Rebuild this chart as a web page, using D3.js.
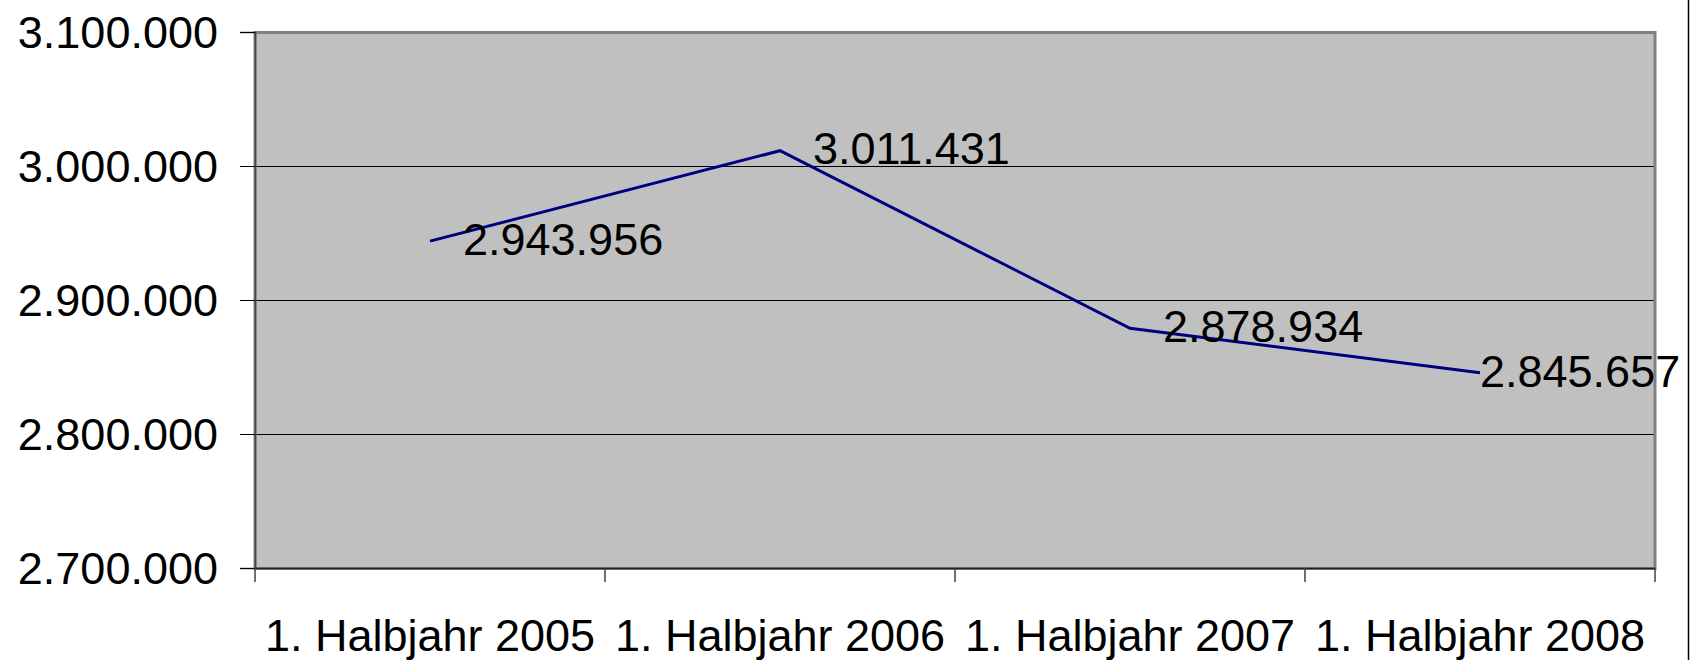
<!DOCTYPE html>
<html>
<head>
<meta charset="utf-8">
<script src="https://cdn.jsdelivr.net/npm/d3@7"></script>
<style>
  html, body { margin: 0; padding: 0; background: #fff; }
  svg { display: block; }
  text { font-family: "Liberation Sans", Arial, sans-serif; fill: #000; }
</style>
</head>
<body>
<svg id="chart" width="1701" height="660"></svg>
<script>
const categories = ["1. Halbjahr 2005", "1. Halbjahr 2006", "1. Halbjahr 2007", "1. Halbjahr 2008"];
const values = [2943956, 3011431, 2878934, 2845657];
const yTicks = [2700000, 2800000, 2900000, 3000000, 3100000];

const W = 1701, H = 660;
const margin = { left: 255, top: 32, right: 46, bottom: 92 };
const pw = W - margin.left - margin.right; // 1400
const ph = H - margin.top - margin.bottom; // 536

const fmt = v => d3.format(",")(v).replace(/,/g, ".");

const svg = d3.select("#chart");
const g = svg.append("g").attr("transform", `translate(${margin.left},${margin.top})`);

const x = d3.scaleBand().domain(categories).range([0, pw]).paddingInner(0).paddingOuter(0);
const y = d3.scaleLinear().domain([2700000, 3100000]).range([ph, 0]);

// plot background
g.append("rect").attr("x", 0).attr("y", 0).attr("width", pw).attr("height", ph).attr("fill", "#C0C0C0");

// gridlines
g.selectAll(".grid").data(yTicks.filter(t => t > 2700000 && t < 3100000)).enter()
  .append("line")
  .attr("x1", 0).attr("x2", pw)
  .attr("y1", d => Math.round(y(d)) + 0.5).attr("y2", d => Math.round(y(d)) + 0.5)
  .attr("stroke", "#000").attr("stroke-width", 1);

// plot border (gray, top/right visible)
g.append("rect").attr("x", 0).attr("y", 0.5).attr("width", pw).attr("height", ph)
  .attr("fill", "none").attr("stroke", "#808080").attr("stroke-width", 3);

// Y axis
const yAxis = g.append("g")
  .call(d3.axisLeft(y).tickValues(yTicks).tickFormat(fmt).tickSize(15).tickPadding(22));
yAxis.select(".domain").attr("stroke", "#404040").attr("stroke-width", 1.5);
yAxis.selectAll(".tick line").attr("stroke", "#000");
yAxis.selectAll("text").style("font-size", "45px").attr("fill", "#000").attr("dy", "0.34em");

// X axis
const xAxis = g.append("g").attr("transform", `translate(0,${ph})`)
  .call(d3.axisBottom(x).tickSize(0).tickFormat(""));
xAxis.select(".domain").attr("stroke", "#202020").attr("stroke-width", 1.5);
xAxis.selectAll(".tick").remove();
const xTickPos = [0].concat(categories.map(c => x(c) + x.bandwidth()));
xAxis.selectAll(".xt").data(xTickPos).enter().append("line")
  .attr("x1", d => d).attr("x2", d => d).attr("y1", 0).attr("y2", 14)
  .attr("stroke", "#404040").attr("stroke-width", 1.5);
xAxis.selectAll(".xl").data(categories).enter().append("text")
  .attr("x", d => x(d) + x.bandwidth() / 2)
  .attr("y", 83)
  .attr("text-anchor", "middle")
  .style("font-size", "45px")
  .text(d => d);

// line
const line = d3.line()
  .x((d, i) => x(categories[i]) + x.bandwidth() / 2)
  .y(d => y(d));
g.append("path").datum(values).attr("d", line)
  .attr("fill", "none").attr("stroke", "#000080").attr("stroke-width", 3).attr("stroke-linejoin", "miter");

// data labels
const labels = g.selectAll(".dl").data(values).enter().append("text")
  .attr("y", d => y(d) - 2)
  .attr("dy", "0.35em")
  .style("font-size", "45px")
  .text(d => fmt(d));
labels.each(function(d, i) {
  const px = x(categories[i]) + x.bandwidth() / 2;
  const w = this.getComputedTextLength();
  let lx = px + 33;
  const maxRight = 1680 - margin.left;
  if (lx + w > maxRight) lx = Math.max(px, maxRight - w);
  d3.select(this).attr("x", lx);
});

// outer frame right edge
svg.append("line").attr("x1", 1688.5).attr("x2", 1688.5).attr("y1", 0).attr("y2", H)
  .attr("stroke", "#000").attr("stroke-width", 1.5);
</script>
</body>
</html>
